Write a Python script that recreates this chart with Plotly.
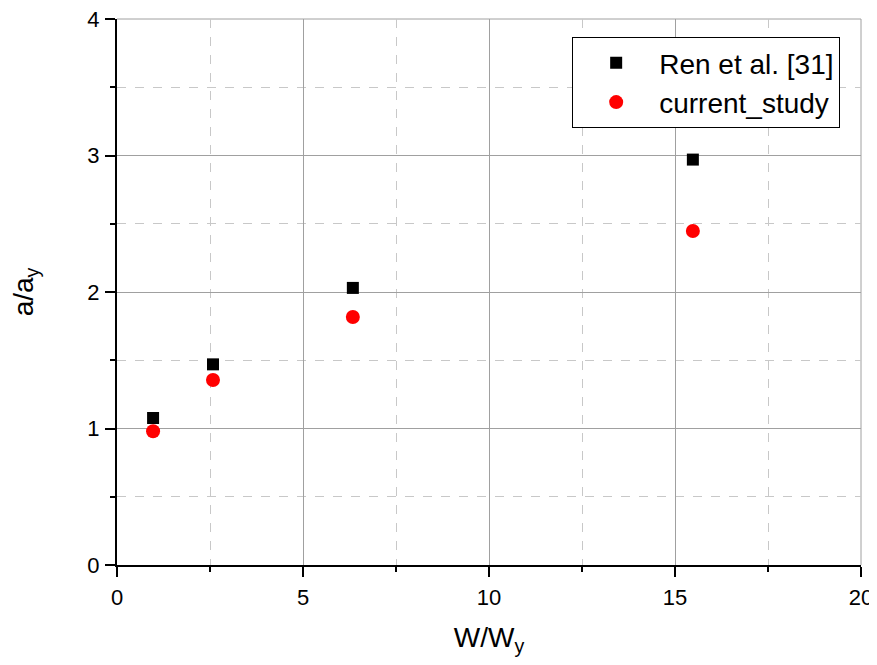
import plotly.graph_objects as go

ren_x = [0.97, 2.58, 6.34, 15.48]
ren_y = [1.077, 1.47, 2.03, 2.97]
cur_x = [0.97, 2.58, 6.34, 15.48]
cur_y = [0.98, 1.355, 1.817, 2.447]

FONT = "Liberation Sans, Arial, sans-serif"
GRID = "#a0a0a0"

fig = go.Figure()
fig.add_trace(go.Scatter(x=ren_x, y=ren_y, mode="markers", name="Ren et al. [31]",
                         marker=dict(symbol="square", size=12, color="black")))
fig.add_trace(go.Scatter(x=cur_x, y=cur_y, mode="markers", name="current_study",
                         marker=dict(symbol="circle", size=14, color="#ff0000")))

axis_common = dict(
    showline=True, linecolor="black", linewidth=2,
    ticks="outside", ticklen=10, tickwidth=2, tickcolor="black",
    showgrid=True, gridcolor=GRID, gridwidth=1,
    zeroline=False, mirror=False, automargin=False,
    ticklabeloverflow="allow",
    tickfont=dict(family=FONT, size=22, color="black"),
    title_font=dict(family=FONT, size=28, color="black"),
)

fig.update_xaxes(range=[0, 20], dtick=5, tick0=0,
                 title_text="W/W<sub>y</sub>", title_standoff=21,
                 ticklabelstandoff=2,
                 minor=dict(dtick=2.5, tick0=0, showgrid=True, gridcolor="#c8c8c8",
                            griddash="dash", ticks="outside", ticklen=5, tickwidth=1.5,
                            tickcolor="black"),
                 **axis_common)
fig.update_yaxes(range=[0, 4], dtick=1, tick0=0,
                 title_text="a/a<sub>y</sub>", title_standoff=53,
                 ticklabelstandoff=1,
                 minor=dict(dtick=0.5, tick0=0, showgrid=True, gridcolor="#c8c8c8",
                            griddash="dash", ticks="outside", ticklen=5, tickwidth=1.5,
                            tickcolor="black"),
                 **axis_common)

# grid lines along the top and right edges of the plotting area
fig.add_shape(type="line", xref="paper", yref="paper", x0=0, x1=1, y0=1, y1=1,
              line=dict(color=GRID, width=1), layer="below")
fig.add_shape(type="line", xref="paper", yref="paper", x0=1, x1=1, y0=0, y1=1,
              line=dict(color=GRID, width=1), layer="below")

fig.update_layout(
    width=869, height=649,
    margin=dict(l=109, r=16, t=11, b=92),
    plot_bgcolor="white", paper_bgcolor="white",
    legend=dict(x=0.972, y=0.967, xanchor="right", yanchor="top",
                bgcolor="white", bordercolor="black", borderwidth=1,
                font=dict(family=FONT, size=28, color="black"),
                itemwidth=76, tracegroupgap=0),
    showlegend=True,
)

fig.write_html("out.html")
